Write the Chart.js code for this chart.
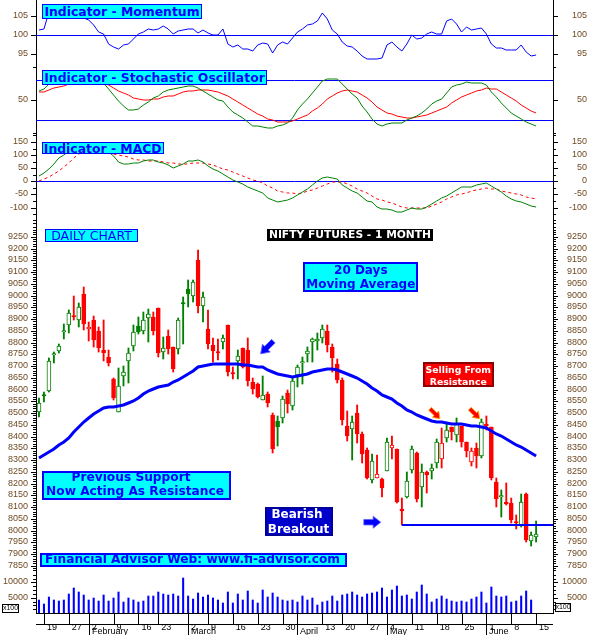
<!DOCTYPE html>
<html><head><meta charset="utf-8">
<script src="https://cdn.jsdelivr.net/npm/chart.js@4.4.1/dist/chart.umd.min.js"></script>
<style>
html,body{margin:0;padding:0;background:#fff;}
#root{position:relative;width:589px;height:635px;overflow:hidden;background:#fff;}
canvas{position:absolute;left:0;}
.box{position:absolute;box-sizing:border-box;}
.txt{position:absolute;white-space:nowrap;text-align:center;}
#ann{position:absolute;left:0;top:0;width:589px;height:635px;}
</style></head>
<body><div id="root">
<canvas id="cMom" width="589" height="66" style="top:0px"></canvas>
<canvas id="cSto" width="589" height="68" style="top:66px"></canvas>
<canvas id="cMacd" width="589" height="85" style="top:134px"></canvas>
<canvas id="cPrice" width="589" height="353" style="top:219px"></canvas>
<canvas id="cVol" width="589" height="63" style="top:572px"></canvas>
<div id="ann"></div>
</div>
<script>
// ---------------- DATA ----------------
const dates = ['2015-01-16','2015-01-19','2015-01-20','2015-01-21','2015-01-22','2015-01-23','2015-01-27','2015-01-28','2015-01-29','2015-01-30',
'2015-02-02','2015-02-03','2015-02-04','2015-02-05','2015-02-06','2015-02-09','2015-02-10','2015-02-11','2015-02-12','2015-02-13',
'2015-02-16','2015-02-18','2015-02-19','2015-02-20','2015-02-23','2015-02-24','2015-02-25','2015-02-26','2015-02-27','2015-02-28',
'2015-03-02','2015-03-03','2015-03-04','2015-03-05','2015-03-09','2015-03-10','2015-03-11','2015-03-12','2015-03-13','2015-03-16',
'2015-03-17','2015-03-18','2015-03-19','2015-03-20','2015-03-23','2015-03-24','2015-03-25','2015-03-26','2015-03-27','2015-03-30',
'2015-03-31','2015-04-01','2015-04-06','2015-04-07','2015-04-08','2015-04-09','2015-04-10','2015-04-13','2015-04-15','2015-04-16',
'2015-04-17','2015-04-20','2015-04-21','2015-04-22','2015-04-23','2015-04-24','2015-04-27','2015-04-28','2015-04-29','2015-04-30',
'2015-05-04','2015-05-05','2015-05-06','2015-05-07','2015-05-08','2015-05-11','2015-05-12','2015-05-13','2015-05-14','2015-05-15',
'2015-05-18','2015-05-19','2015-05-20','2015-05-21','2015-05-22','2015-05-25','2015-05-26','2015-05-27','2015-05-28','2015-05-29',
'2015-06-01','2015-06-02','2015-06-03','2015-06-04','2015-06-05','2015-06-08','2015-06-09','2015-06-10','2015-06-11','2015-06-12',
'2015-06-15'];

const openP = [8503,8577,8595,8745,8766,8845,8873,8913,8896,9007,
8856,8896,8849,8768,8739,8645,8503,8659,8723,8787,
8870,8851,8903,8910,8948,8761,8828,8780,8771,8968,
9028,9000,9151,8957,8858,8788,8759,8801,8875,8671,
8720,8775,8768,8631,8624,8554,8581,8492,8466,8478,
8584,8531,8662,8712,8753,8801,8805,8821,8849,8781,
8707,8641,8445,8431,8499,8409,8343,8215,8222,8219,
8255,8353,8347,8090,8144,8258,8331,8187,8250,8255,
8286,8305,8392,8441,8407,8445,8375,8293,8353,8319,
8452,8441,8205,8142,8120,8119,8034,8024,8154,7956,
7971];
const highP = [8563,8591,8734,8761,8794,8878,8939,8998,8967,9038,
8889,8913,8868,8896,8768,8650,8690,8700,8775,8875,
8910,8931,8941,8931,8948,8822,8853,8780,8903,8995,
9066,9066,9194,9017,8938,8819,8815,8832,8875,8697,
8768,8775,8818,8648,8629,8658,8591,8502,8488,8573,
8598,8652,8704,8740,8782,8821,8839,8875,8875,8792,
8730,8651,8509,8487,8534,8421,8353,8324,8321,8225,
8392,8402,8347,8140,8250,8360,8336,8282,8252,8282,
8390,8435,8453,8442,8478,8445,8378,8350,8371,8475,
8489,8441,8225,8173,8201,8140,8066,8154,8158,7995,
8041];
const lowP = [8482,8549,8590,8712,8754,8817,8842,8896,8868,8853,
8808,8783,8761,8723,8700,8556,8503,8615,8629,8764,
8835,8837,8804,8832,8737,8729,8751,8676,8751,8794,
8953,8974,8927,8889,8773,8719,8726,8773,8658,8646,
8646,8690,8616,8581,8563,8554,8527,8331,8361,8456,
8502,8513,8612,8622,8719,8719,8768,8797,8761,8676,
8626,8449,8381,8300,8371,8286,8219,8201,8222,8144,
8255,8304,8116,8024,8137,8245,8123,8099,8160,8219,
8268,8268,8378,8385,8378,8357,8314,8275,8265,8307,
8428,8215,8102,8059,8109,8031,8007,8017,7950,7936,
7950];
const closeP = [8541,8571,8721,8750,8784,8850,8924,8907,8953,8878,
8865,8811,8778,8757,8715,8563,8615,8675,8754,8844,
8846,8896,8921,8849,8757,8776,8771,8689,8896,8963,
9005,9056,8956,8992,8792,8765,8756,8819,8676,8667,
8743,8695,8638,8602,8567,8577,8541,8346,8439,8561,
8537,8635,8694,8716,8764,8815,8817,8858,8790,8733,
8641,8470,8404,8463,8409,8324,8225,8296,8239,8182,
8375,8363,8123,8085,8212,8346,8133,8250,8237,8268,
8375,8371,8428,8421,8453,8375,8340,8339,8319,8461,
8446,8225,8134,8146,8114,8045,8030,8123,7960,7981,
7985];
const ma20 = [8308,8320,8334,8348,8362,8376,8395,8420,8442,8462,
8478,8496,8510,8520,8524,8526,8530,8536,8544,8553,
8566,8580,8592,8602,8610,8616,8620,8630,8642,8655,
8666,8680,8695,8702,8705,8708,8709,8710,8710,8709,
8708,8706,8704,8701,8698,8694,8685,8675,8667,8660,
8656,8655,8657,8661,8667,8674,8681,8685,8689,8689,
8683,8675,8667,8659,8648,8635,8622,8608,8592,8578,
8570,8560,8542,8530,8514,8503,8491,8482,8475,8467,
8463,8460,8457,8455,8454,8453,8451,8446,8444,8442,
8435,8425,8412,8401,8390,8377,8366,8355,8343,8329,
8317];
const volume = [4250,2940,5140,4250,3920,4250,6210,8070,6760,5880,
4250,4800,3920,5880,3920,4800,6760,3590,4800,4250,
3590,3920,5560,5560,6760,6210,5880,6210,5560,11340,
5560,4580,6440,5320,5880,4800,4250,3360,6760,3270,
6210,4250,7100,4250,3270,7520,5230,6440,5230,4250,
3920,4250,3650,5560,4250,4800,2610,3590,3920,5560,
3920,5880,6210,6760,5880,5320,6210,6440,6760,8070,
5140,7520,8920,5560,5880,4580,6760,9150,6210,3590,
4580,5560,4580,3920,3590,3920,3590,4580,5140,6760,
3270,8400,5560,5140,5560,3590,3920,5560,7190,4250,
null];
const momentum = [101.2,101.5,106,107,107.5,107.5,107.8,107,105.5,104.3,
103.9,102.5,100.8,100.2,97.6,96.8,96.3,97.2,97.7,99,
100.3,100.8,101.6,101.2,101.5,102.3,101.6,100.3,101,101.3,
101.4,101.6,100.5,101.3,100.4,99.9,99.9,101.6,97.5,96.9,
97.2,96.2,96.3,95.8,97.2,97.8,97.5,95.2,97.2,98.2,
97.7,99.2,100.7,101.5,102.5,102.9,103.6,105.7,104,101.2,
100.1,98,97,96.8,95.8,94.4,93.6,93.6,93.7,93.9,
97.3,98.2,96.7,95.8,97.6,100,99,99.2,100.1,100.7,
100.1,100.1,103.6,104.2,102.7,100.8,102,101.1,101.5,101.8,
100.2,97.6,96.6,96.5,96.1,96.1,96.1,97.4,95.5,94.4,
94.6];
const stochK = [64.5,67,74,80,85,89,92,93,93,91,
88,84,79,76,67.4,57.9,48.4,40.6,35.2,35.2,
37.3,42.7,47.8,52.6,56.8,62.6,65.7,66.7,68,70.5,
71.1,72.1,69.1,64.4,59.9,54.6,50.3,48.6,39.9,31.8,
27.8,22.3,16.5,11.5,10.4,9.4,8.3,7.6,10.6,12.9,
15.3,23,34.4,44.2,52.3,61,70,78.3,81.4,82,
81.2,73.7,66.8,60,52.9,41.2,32,22.1,14.6,11,
13.5,15.1,15.5,15.9,19.3,23.5,26.4,31.2,37.2,44.9,
48,51.1,61.3,69.7,73.4,74.7,76.7,75.5,75.7,75.8,
72.4,62.9,54.4,46,37.7,30.2,25.5,21.5,17.4,13.4,
11];
const stochD = [61.6,62.5,65.7,67.9,70.2,71.8,74.5,77,79,80.5,
81,80,78,75.5,72.2,67.9,64,60.4,57.2,53.3,
52.1,50.9,50.3,51,52,54,55.7,57,59.3,61.7,
63.6,64.5,65.4,65.4,65,63.9,62.2,59.2,55.9,51.4,
46.9,42.7,38.4,33.9,29.4,25.6,22.1,19.5,17.4,16.6,
16.5,19,21.3,24.5,28.3,33,38.5,44.5,51.1,56.5,
60.7,63.6,65.3,64.2,62.8,57.9,52.9,46.5,40.2,35.7,
31.1,28.6,26.1,24.3,22.6,23.3,24.1,25.9,27.6,30.6,
33.7,37,40.2,45.2,50.3,54.1,57.9,60.9,63.9,65.9,
67.8,67.2,66.3,62.5,58.3,53.2,48.2,43.2,38.2,33.5,
30.5];
const macdLine = [18.6,31.5,47,67.7,87,101.6,115,126,134,138,
139,136,130,122,112,94.9,72,64.3,64.9,69,
71.3,75.5,79.5,81,73.3,68.5,62.3,50,57.1,66.9,
75.9,79,82.6,75,60.2,47.7,40,29.7,17.7,6.2,
-1.9,-11.4,-22,-29.4,-36.8,-46.4,-63.3,-71.9,-77.6,-75.4,
-71.9,-64.5,-53.5,-41.8,-29.3,-14.4,2.1,12.8,17.9,11.7,
8.5,-15.2,-26.7,-35.3,-45.8,-60.4,-73.9,-80.8,-97.8,-106.8,
-104.4,-110.9,-116,-117.6,-109.9,-102.2,-104.9,-104.5,-96.5,-86.2,
-75.3,-63.5,-56,-44.6,-31.4,-23.4,-21.2,-21,-15.4,-10.1,
-6.3,-18.1,-30.5,-42.6,-54.8,-67.5,-73.4,-78.5,-86.3,-92.3,
-97];
const macdSignal = [-0.4,7.2,16.4,27.3,38.6,54.6,70.8,88.3,105,112,
116,117,116,113,109,105,100.5,95.5,91,86.6,
83,80.7,79,79,78,74.5,71.1,68.1,66,66,
66.8,69.3,70.7,69.7,67.1,61,54.7,48.2,41.5,34,
26.6,19.6,12.7,6.2,-0.5,-8,-16.2,-27.2,-37,-42,
-46,-46.5,-47,-44.3,-38.8,-32.3,-24.8,-17,-9,-3.8,
-1.3,-2.9,-8.5,-18.5,-27.9,-37,-46,-56.5,-67,-72.5,
-78,-84,-90,-96.5,-103,-103,-103,-102,-101,-94,
-87,-78,-69,-60.5,-52,-47.5,-43,-38,-33,-30.1,
-27.1,-29,-30.8,-35.5,-39.6,-44.4,-47.8,-53.5,-59,-65.5,
-69];

// axis tick values / labels
const weekTickDates = ['2015-01-19','2015-01-27','2015-02-02','2015-02-09','2015-02-16','2015-02-23','2015-03-02','2015-03-09','2015-03-16','2015-03-23','2015-03-30','2015-04-06','2015-04-13','2015-04-20','2015-04-27','2015-05-04','2015-05-11','2015-05-18','2015-05-25','2015-06-01','2015-06-08','2015-06-15'];
const weekTickLabels = ['19','27','2','9','16','23','2','9','16','23','30','','13','20','27','4','11','18','25','1','8','15'];
const monthTickDates = ['2015-02-02','2015-03-02','2015-04-06','2015-05-04','2015-06-01'];
const monthNames = ['February','March','April','May','June'];
const momTicks = [95,100,105];
const stoTicks = [50];
const macdTicks = [-100,-50,0,50,100,150];
const priceTicks = [7850,7900,7950,8000,8050,8100,8150,8200,8250,8300,8350,8400,8450,8500,8550,8600,8650,8700,8750,8800,8850,8900,8950,9000,9050,9100,9150,9200,9250];
const volTicks = [5000,10000];
const momLevels = [100];
const stoLevels = [80,20];
const macdLevels = [0];
const supportLevel = 8024;
const supportFrom = '2015-05-07';

// ---------------- CHARTS ----------------
const X_MIN = -0.6, X_MAX = 103.4;
const FONT = '"Liberation Sans", Arial, sans-serif';
const LABEL_COLOR = '#6e4a22';
const GREEN = '#008000', RED = '#FF0000', BLUE = '#0000FF';
const pts = arr => arr.map((v, i) => ({x: i, y: v}));

function minorRange(from, to, step, skip) {
  const out = [];
  for (let v = from; v <= to; v += step) { if (v % skip !== 0) out.push(v); }
  return out;
}

function xHidden() {
  return {type: 'linear', min: X_MIN, max: X_MAX, bounds: 'data', offset: false, display: false, grid: {offset: false}};
}
function yPair(min, max, majors) {
  const ticks = {autoSkip: false, padding: 3, color: LABEL_COLOR, font: {family: FONT, size: 9}, callback: v => String(v)};
  const base = {
    type: 'linear', min: min, max: max, bounds: 'data', alignToPixels: true,
    grid: {display: true, drawOnChartArea: false, drawTicks: true, tickLength: 5, tickColor: '#000', tickWidth: 1, color: '#000'},
    border: {display: true, color: '#000', width: 1},
    afterBuildTicks: s => { s.ticks = majors.map(v => ({value: v})); }
  };
  return {
    y: Object.assign({}, base, {position: 'left', ticks: Object.assign({}, ticks),
      afterFit: s => { s.width = 36; s.paddingTop = 0; s.paddingBottom = 0; }}),
    yR: Object.assign({}, base, {position: 'right', ticks: Object.assign({}, ticks, {crossAlign: 'far'}),
      afterFit: s => { s.width = 34; s.paddingTop = 0; s.paddingBottom = 0; }})
  };
}
function baseOptions(yMin, yMax, majors, levels, minor) {
  return {
    responsive: false, animation: false, events: [],
    layout: {autoPadding: false, padding: {left: 0, right: 2, top: 0, bottom: 0}},
    plugins: {legend: {display: false}, tooltip: {enabled: false},
      refLines: {values: levels || []}, minorTicks: {values: minor || []}},
    scales: Object.assign({x: xHidden()}, yPair(yMin, yMax, majors))
  };
}

const refLinesPlugin = {
  id: 'refLines',
  beforeDatasetsDraw(chart, args, opts) {
    const vals = opts.values || [];
    if (!vals.length) return;
    const {ctx, chartArea} = chart; const ys = chart.scales.y;
    ctx.save(); ctx.strokeStyle = BLUE; ctx.lineWidth = 1; ctx.beginPath();
    vals.forEach(v => { const py = Math.round(ys.getPixelForValue(v)) + 0.5; ctx.moveTo(chartArea.left, py); ctx.lineTo(chartArea.right, py); });
    ctx.stroke(); ctx.restore();
  }
};
const minorTicksPlugin = {
  id: 'minorTicks',
  afterDraw(chart, args, opts) {
    const vals = opts.values || [];
    if (!vals.length) return;
    const {ctx, chartArea} = chart; const ys = chart.scales.y;
    const l = Math.round(chartArea.left), r = Math.round(chartArea.right);
    ctx.save(); ctx.strokeStyle = '#000'; ctx.lineWidth = 1; ctx.beginPath();
    vals.forEach(v => { const py = Math.round(ys.getPixelForValue(v)) + 0.5; ctx.moveTo(l - 3, py); ctx.lineTo(l, py); ctx.moveTo(r, py); ctx.lineTo(r + 3, py); });
    ctx.stroke(); ctx.restore();
  }
};
const supportPlugin = {
  id: 'support',
  afterDatasetsDraw(chart) {
    const {ctx, chartArea} = chart; const xs = chart.scales.x, ys = chart.scales.y;
    const py = Math.round(ys.getPixelForValue(supportLevel));
    ctx.save(); ctx.strokeStyle = BLUE; ctx.lineWidth = 2; ctx.beginPath();
    ctx.moveTo(xs.getPixelForValue(dates.indexOf(supportFrom)), py); ctx.lineTo(chartArea.right, py);
    ctx.stroke(); ctx.restore();
  }
};
const xAxisExtrasPlugin = {
  id: 'xAxisExtras',
  afterDraw(chart) {
    const {ctx, chartArea} = chart; const xs = chart.scales.x;
    const top = Math.round(chartArea.bottom), mid = top + 11, bottom = chart.height;
    ctx.save(); ctx.strokeStyle = '#000'; ctx.lineWidth = 1; ctx.beginPath();
    ctx.moveTo(chartArea.left, mid + 0.5); ctx.lineTo(chartArea.right, mid + 0.5);
    weekTickDates.forEach(d => { const px = Math.round(xs.getPixelForValue(dates.indexOf(d))) + 0.5; ctx.moveTo(px, top); ctx.lineTo(px, mid); });
    monthTickDates.forEach(d => { const px = Math.round(xs.getPixelForValue(dates.indexOf(d))) + 0.5; ctx.moveTo(px, mid); ctx.lineTo(px, bottom); });
    ctx.stroke();
    ctx.fillStyle = '#000'; ctx.font = '9px ' + FONT; ctx.textAlign = 'left'; ctx.textBaseline = 'alphabetic';
    monthNames.forEach((m, k) => { const px = Math.round(xs.getPixelForValue(dates.indexOf(monthTickDates[k]))); ctx.fillText(m, px + 3, bottom - 1.5); });
    ctx.restore();
  }
};

// Momentum
new Chart(document.getElementById('cMom'), {
  type: 'line',
  data: {datasets: [{data: pts(momentum), borderColor: BLUE, borderWidth: 1, pointRadius: 0, tension: 0}]},
  options: baseOptions(91.83, 109.06, momTicks, momLevels, []),
  plugins: [refLinesPlugin, minorTicksPlugin]
});
// Stochastic
new Chart(document.getElementById('cSto'), {
  type: 'line',
  data: {datasets: [
    {data: pts(stochK), borderColor: GREEN, borderWidth: 1, pointRadius: 0, tension: 0},
    {data: pts(stochD), borderColor: RED, borderWidth: 1, pointRadius: 0, tension: 0}
  ]},
  options: baseOptions(-1.16, 101.6, stoTicks, stoLevels, [0, 100]),
  plugins: [refLinesPlugin, minorTicksPlugin]
});
// MACD
new Chart(document.getElementById('cMacd'), {
  type: 'line',
  data: {datasets: [
    {data: pts(macdLine), borderColor: GREEN, borderWidth: 1, pointRadius: 0, tension: 0},
    {data: pts(macdSignal), borderColor: RED, borderWidth: 1, borderDash: [3, 3], pointRadius: 0, tension: 0}
  ]},
  options: baseOptions(-143.7, 180.3, macdTicks, macdLevels, [-125, -75, -25, 25, 75, 125, 175]),
  plugins: [refLinesPlugin, minorTicksPlugin]
});
// Price candles
const candleColor = closeP.map((c, i) => ((i === 0 ? c >= openP[i] : c >= closeP[i - 1]) ? GREEN : RED));
const candleFill = closeP.map((c, i) => (c < openP[i] ? candleColor[i] : '#FFFFFF'));
const priceOpts = baseOptions(7823.6, 9325.7, priceTicks, [], minorRange(7830, 9320, 10, 50));
new Chart(document.getElementById('cPrice'), {
  type: 'bar',
  data: {datasets: [
    {type: 'line', data: pts(ma20), borderColor: BLUE, borderWidth: 3, pointRadius: 0, tension: 0, order: 0},
    {type: 'bar', data: openP.map((o, i) => ({x: i, y: [o, closeP[i]]})), backgroundColor: candleFill, borderColor: candleColor,
      borderWidth: 1, borderSkipped: false, barThickness: 4, grouped: false, minBarLength: 1.5, order: 1},
    {type: 'bar', data: lowP.map((l, i) => ({x: i, y: [l, highP[i]]})), backgroundColor: candleColor, borderWidth: 0,
      barThickness: 1.2, grouped: false, order: 2}
  ]},
  options: priceOpts,
  plugins: [minorTicksPlugin, supportPlugin]
});
// Volume + date axis
const volOpts = baseOptions(0, 13400, volTicks, [], [1250, 2500, 3750, 6250, 7500, 8750, 11250, 12500]);
volOpts.scales.x = {
  type: 'linear', min: X_MIN, max: X_MAX, bounds: 'data', offset: false, position: 'bottom', display: true,
  grid: {display: false, offset: false}, border: {display: true, color: '#000', width: 1},
  afterBuildTicks: s => { s.ticks = weekTickDates.map(d => ({value: dates.indexOf(d)})); },
  afterFit: s => { s.height = 22; s.paddingLeft = 0; s.paddingRight = 0; },
  ticks: {autoSkip: false, maxRotation: 0, minRotation: 0, align: 'start', labelOffset: 3, padding: 1, color: '#000',
    font: {family: FONT, size: 9},
    callback: v => { const k = weekTickDates.indexOf(dates[Math.round(v)]); return k >= 0 ? weekTickLabels[k] : ''; }}
};
new Chart(document.getElementById('cVol'), {
  type: 'bar',
  data: {datasets: [{data: volume.map((v, i) => ({x: i, y: v})), backgroundColor: BLUE, borderWidth: 0, barThickness: 1.4, grouped: false}]},
  options: volOpts,
  plugins: [minorTicksPlugin, xAxisExtrasPlugin]
});

// ---------------- ANNOTATIONS ----------------
const ann = document.getElementById('ann');
const CYAN = '#00FFFF';
function addBox(x, y, w, h, bg, bc, bw) {
  const d = document.createElement('div'); d.className = 'box';
  d.style.cssText = `left:${x}px;top:${y}px;width:${w}px;height:${h}px;background:${bg};` + (bw ? `border:${bw}px solid ${bc};` : '');
  ann.appendChild(d);
}
function addText(t, cx, base, size, weight, color, family) {
  const L = size * 1.25;
  const d = document.createElement('div'); d.className = 'txt'; d.textContent = t;
  d.style.cssText = `left:${cx - 200}px;width:400px;top:${(base - L / 2 - 0.346 * size).toFixed(2)}px;height:${L}px;line-height:${L}px;` +
    `font-size:${size}px;font-weight:${weight};color:${color};font-family:${family};`;
  ann.appendChild(d);
}
const DJ = '"DejaVu Sans", Verdana, sans-serif';
addBox(42, 4, 160, 14.5, CYAN, BLUE, 1);
addText('Indicator - Momentum', 122, 16, 12.4, 'bold', BLUE, DJ);
addBox(42, 70, 225, 15, CYAN, BLUE, 1);
addText('Indicator - Stochastic Oscillator', 154.5, 82, 12.4, 'bold', BLUE, DJ);
addBox(42, 141.7, 121.5, 12.8, CYAN, BLUE, 1);
addText('Indicator - MACD', 102.7, 152.6, 12.4, 'bold', BLUE, DJ);
addBox(45, 229.3, 92.5, 12.5, CYAN, BLUE, 1);
addText('DAILY CHART', 91.5, 240, 12.5, 'normal', BLUE, DJ);
addBox(266.7, 229.3, 166.6, 11.5, '#000000', null, 0);
addText('NIFTY FUTURES - 1 MONTH', 350, 238.6, 10.7, 'bold', '#FFFFFF', DJ);
addBox(303.3, 262.3, 115, 29.5, CYAN, BLUE, 2);
addText('20 Days', 360.8, 275, 12, 'bold', BLUE, DJ);
addText('Moving Average', 360.8, 288.3, 12, 'bold', BLUE, DJ);
addBox(422.7, 362.3, 71.3, 24.5, '#FF0000', '#8B0000', 2);
addText('Selling From', 458.3, 373.5, 9.3, 'bold', '#FFFFFF', DJ);
addText('Resistance', 458.3, 385.2, 9.3, 'bold', '#FFFFFF', DJ);
addBox(42.3, 470.7, 188.5, 29.5, CYAN, BLUE, 2);
addText('Previous Support', 131, 481.8, 12.2, 'bold', BLUE, DJ);
addText('Now Acting As Resistance', 135, 496.3, 12.2, 'bold', BLUE, DJ);
addBox(265, 506.7, 67.7, 29, '#0000CC', '#000099', 2);
addText('Bearish', 297, 519, 12, 'bold', '#FFFFFF', DJ);
addText('Breakout', 298.5, 533.2, 12, 'bold', '#FFFFFF', DJ);
addBox(40, 552.7, 306.7, 14, CYAN, BLUE, 2);
addText('Financial Advisor Web: www.fi-advisor.com', 192.5, 564, 12.2, 'bold', BLUE, DJ);
addBox(1.7, 604, 17.6, 8.7, '#FFFFFF', '#000000', 1);
addText('x100', 10.5, 610.8, 7, 'normal', '#000000', FONT);
addBox(555, 603, 16, 8.7, '#FFFFFF', '#000000', 1);
addText('x100', 563, 609.8, 7, 'normal', '#000000', FONT);

// arrows
const SVGNS = 'http://www.w3.org/2000/svg';
const svg = document.createElementNS(SVGNS, 'svg');
svg.setAttribute('width', '589'); svg.setAttribute('height', '635');
svg.style.cssText = 'position:absolute;left:0;top:0;';
ann.appendChild(svg);
function arrow(cx, cy, len, hw, sw, ang, fill, stroke) {
  const h = len / 2, hl = len * 0.45;
  const p = [[-h, -sw / 2], [h - hl, -sw / 2], [h - hl, -hw / 2], [h, 0], [h - hl, hw / 2], [h - hl, sw / 2], [-h, sw / 2]];
  const poly = document.createElementNS(SVGNS, 'polygon');
  poly.setAttribute('points', p.map(q => q.join(',')).join(' '));
  poly.setAttribute('transform', `translate(${cx},${cy}) rotate(${ang})`);
  poly.setAttribute('fill', fill); poly.setAttribute('stroke', stroke); poly.setAttribute('stroke-width', '0.8');
  svg.appendChild(poly);
}
arrow(267, 347.5, 18, 11, 5, 135, BLUE, '#6060FF');
arrow(435, 413.7, 14, 9, 4, 45, RED, '#FFB000');
arrow(474.7, 413.7, 14, 9, 4, 45, RED, '#FFB000');
arrow(372.3, 522.2, 17, 12, 5.5, 0, BLUE, '#6060FF');
</script>
</body></html>
